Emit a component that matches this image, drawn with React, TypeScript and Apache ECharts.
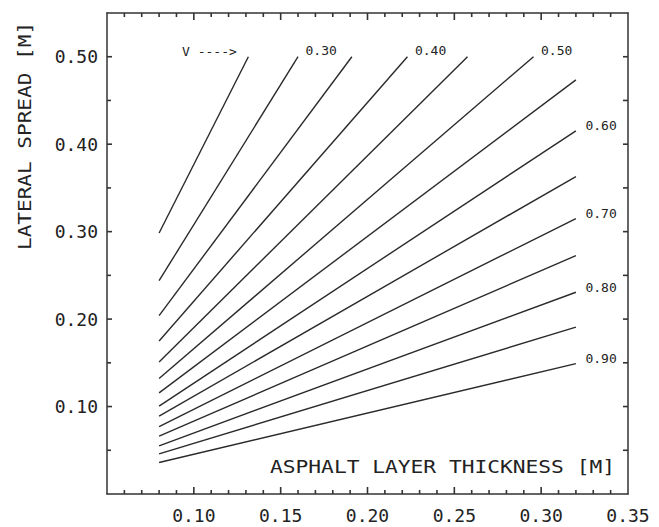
import React, { useEffect, useRef } from "react";
import * as echarts from "echarts";

// Velocity curves: lateral spread vs asphalt layer thickness
const lineLabels = ["V ---->", "0.30", "", "0.40", "", "0.50", "", "0.60", "", "0.70", "", "0.80", "", "0.90"];
const startX = [0.08, 0.08, 0.08, 0.08, 0.08, 0.08, 0.08, 0.08, 0.08, 0.08, 0.08, 0.08, 0.08, 0.08];
const startY = [0.2985, 0.244, 0.204, 0.175, 0.151, 0.132, 0.1156, 0.1005, 0.089, 0.077, 0.0662, 0.0551, 0.0458, 0.036];
const endX = [0.1314, 0.16, 0.191, 0.223, 0.2576, 0.2956, 0.32, 0.32, 0.32, 0.32, 0.32, 0.32, 0.32, 0.32];
const endY = [0.5, 0.5, 0.5, 0.5, 0.5, 0.5, 0.4735, 0.4153, 0.363, 0.315, 0.2726, 0.2307, 0.1908, 0.149];

const xTickLabels = ["0.10", "0.15", "0.20", "0.25", "0.30", "0.35"];
const yTickLabels = ["0.10", "0.20", "0.30", "0.40", "0.50"];
const xName = "ASPHALT LAYER THICKNESS [M]";
const yName = "LATERAL SPREAD [M]";

// Axis ranges and tick steps
const X_MIN = 0.05;
const X_MAX = 0.35;
const Y_MIN = 0;
const Y_MAX = 0.55;
const xMinorSteps = [6, 7, 8, 9, 10, 11, 12, 13, 14, 15, 16, 17, 18, 19, 20, 21, 22, 23, 24, 25, 26, 27, 28, 29, 30, 31, 32, 33, 34]; // hundredths
const yTickSteps = [1, 2, 3, 4, 5, 6, 7, 8, 9, 10]; // twentieths

const MONO = "'DejaVu Sans Mono', 'Liberation Mono', monospace";
const INK = "#222";

export default function App() {
  const ref = useRef<HTMLDivElement>(null);
  useEffect(() => {
    if (!ref.current) return;
    const chart = echarts.init(ref.current, null, { renderer: "svg" });

    const fmt = (list: string[]) => (v: number) => {
      const s = v.toFixed(2);
      return list.indexOf(s) >= 0 ? s : "";
    };

    const series: any[] = startX.map((sx, i) => {
      const onTop = endY[i] >= 0.5;
      const isFirst = i === 0;
      const label = lineLabels[i];
      return {
        type: "line",
        xAxisIndex: 0,
        yAxisIndex: 0,
        symbol: "circle",
        symbolSize: 1,
        showSymbol: true,
        silent: true,
        lineStyle: { color: "#2a2a2a", width: 1.4 },
        itemStyle: { color: "rgba(0,0,0,0)", borderWidth: 0 },
        data: [
          [sx, startY[i]],
          {
            value: [endX[i], endY[i]],
            label: {
              show: label !== "",
              formatter: label,
              position: isFirst ? "left" : "right",
              offset: isFirst ? [-6, -5] : onTop ? [2, -6] : [4, -5],
              fontFamily: MONO,
              fontSize: 13,
              color: INK,
            },
          },
        ],
      };
    });

    // Inward frame ticks: [x, y, length, direction]  dir 0=up,1=down,2=right,3=left
    const ticks: number[][] = [];
    xMinorSteps.forEach((k) => {
      const len = k % 5 === 0 ? 7 : 4;
      ticks.push([k / 100, Y_MIN, len, 0]);
      ticks.push([k / 100, Y_MAX, len, 1]);
    });
    yTickSteps.forEach((k) => {
      const v = k / 20;
      ticks.push([X_MIN, v, k % 2 === 0 ? 5 : 4, 2]);
      ticks.push([X_MAX, v, 5, 3]);
    });

    const off = { splitLine: { show: false }, splitArea: { show: false }, minorSplitLine: { show: false } };
    const frameLine = () => ({ show: true, onZero: false, lineStyle: { color: "#333", width: 1.5 } });
    const xRange = { type: "value", min: X_MIN, max: X_MAX, interval: 0.05 };
    const yRange = { type: "value", min: Y_MIN, max: Y_MAX };

    const nameTexts: any[] = [
      {
        type: "text",
        x: 615,
        y: 467,
        scaleX: 1.18,
        style: {
          text: xName,
          fontFamily: MONO,
          fontSize: 18,
          fill: INK,
          align: "right",
          verticalAlign: "middle",
        },
      },
      {
        type: "text",
        x: 25,
        y: 136,
        rotation: Math.PI / 2,
        scaleX: 1.17,
        style: {
          text: yName,
          fontFamily: MONO,
          fontSize: 18,
          fill: INK,
          align: "center",
          verticalAlign: "middle",
        },
      },
    ];

    chart.setOption({
      animation: false,
      backgroundColor: "#ffffff",
      grid: { left: 107, right: 31, top: 13, bottom: 33, containLabel: false },
      xAxis: [
        {
          ...xRange,
          position: "bottom",
          axisLine: frameLine(),
          axisTick: { show: false },
          minorTick: { show: false },
          ...off,
          axisLabel: {
            show: true,
            formatter: fmt(xTickLabels),
            fontFamily: MONO,
            fontSize: 18,
            color: INK,
            margin: 12,
            showMinLabel: true,
            showMaxLabel: true,
          },
        },
        { ...xRange, position: "top", axisLine: frameLine(), axisTick: { show: false }, minorTick: { show: false }, ...off, axisLabel: { show: false } },
      ],
      yAxis: [
        {
          ...yRange,
          interval: 0.1,
          position: "left",
          axisLine: frameLine(),
          axisTick: { show: false },
          minorTick: { show: false },
          ...off,
          axisLabel: {
            show: true,
            formatter: fmt(yTickLabels),
            fontFamily: MONO,
            fontSize: 18,
            color: INK,
            margin: 9,
          },
        },
        { ...yRange, interval: 0.05, position: "right", axisLine: frameLine(), axisTick: { show: false }, minorTick: { show: false }, ...off, axisLabel: { show: false } },
      ],
      graphic: nameTexts,
      series,
    });

    // Frame ticks placed through the chart's own scales, drawn as thin filled bars
    const W = 1.6;
    const tickEls = ticks.map((t) => {
      const p = chart.convertToPixel({ gridIndex: 0 }, [t[0], t[1]]) as number[];
      const len = t[2];
      const dir = t[3];
      let shape;
      if (dir === 0) shape = { x: p[0] - W / 2, y: p[1] - len, width: W, height: len };
      else if (dir === 1) shape = { x: p[0] - W / 2, y: p[1], width: W, height: len };
      else if (dir === 2) shape = { x: p[0], y: p[1] - W / 2, width: len, height: W };
      else shape = { x: p[0] - len, y: p[1] - W / 2, width: len, height: W };
      return {
        type: "rect",
        z: 100,
        silent: true,
        shape,
        style: { fill: "#333" },
      };
    });
    chart.setOption({ graphic: [...nameTexts, ...tickEls] });

    return () => chart.dispose();
  }, []);

  return (
    <div
      ref={ref}
      style={{ position: "fixed", left: 0, top: 0, width: 659, height: 527, background: "#fff" }}
    />
  );
}
